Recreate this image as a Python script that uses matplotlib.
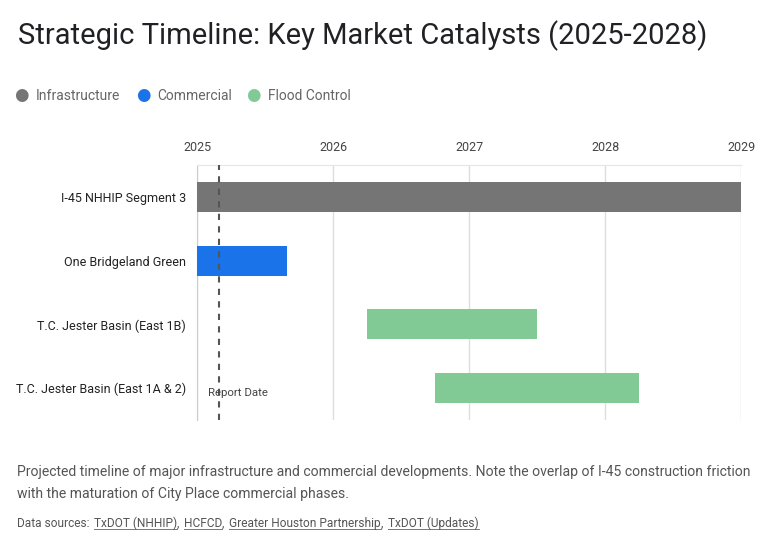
import matplotlib
matplotlib.use("Agg")
import matplotlib.pyplot as plt
from matplotlib.lines import Line2D

plt.rcParams['font.family'] = ['Roboto', 'DejaVu Sans']

# data
projects = ['I-45 NHHIP Segment 3', 'One Bridgeland Green',
            'T.C. Jester Basin (East 1B)', 'T.C. Jester Basin (East 1A & 2)']
starts = [2025.0, 2025.0, 2026.25, 2026.75]
ends = [2029.0, 2025.66, 2027.5, 2028.25]
kinds = ['Infrastructure', 'Commercial', 'Flood Control', 'Flood Control']
report_date = 2025.16
years = [2025, 2026, 2027, 2028, 2029]
colors = {'Infrastructure': '#757575', 'Commercial': '#1a73e8', 'Flood Control': '#81c995'}

fig = plt.figure(figsize=(7.76, 5.49), dpi=100)
ax = fig.add_axes([0.254, 0.235, 0.701, 0.464])

for i, p in enumerate(projects):
    ax.barh(i, ends[i] - starts[i], left=starts[i], height=0.47,
            color=colors[kinds[i]], zorder=3)

ax.set_xlim(2025, 2029)
ax.set_ylim(3.5, -0.5)
ax.set_yticks(range(len(projects)))
ax.set_yticklabels(projects, fontsize=9, color='#222222')
ax.set_xticks(years)
ax.set_xticklabels([str(y) for y in years], fontsize=9, color='#444444')
ax.xaxis.tick_top()
ax.tick_params(axis='both', length=0, pad=8)
ax.tick_params(axis='y', pad=8)
ax.grid(axis='x', color='#dddddd', lw=1, zorder=0)
for s in ['right', 'bottom']:
    ax.spines[s].set_visible(False)
ax.spines['top'].set_color('#e6e6e6')
ax.spines['left'].set_color('#cccccc')

ax.axvline(report_date, color='#555555', lw=1.5, ls=(0, (3, 3)), zorder=4)
ax.text(report_date - 0.08, 3.07, 'Report Date', fontsize=8.2, color='#444444',
        va='center', ha='left', zorder=5)

fig.text(0.023, 0.935, 'Strategic Timeline: Key Market Catalysts (2025-2028)',
         fontsize=21, color='#202124', va='center')

# legend
lx = [0.028, 0.185, 0.327]
for x, k in zip(lx, colors):
    fig.text(x, 0.826, '\u25CF', color=colors[k], fontsize=12, va='center', ha='center')
    fig.text(x + 0.018, 0.826, k, color='#666666', fontsize=10, va='center')

fig.text(0.022, 0.14, 'Projected timeline of major infrastructure and commercial developments. '
         'Note the overlap of I-45 construction friction', fontsize=10.1, color='#555555', va='center')
fig.text(0.022, 0.101, 'with the maturation of City Place commercial phases.',
         fontsize=10.1, color='#555555', va='center')

# sources with underlines
parts = [('Data sources:\u00a0', False), ('TxDOT (NHHIP)', True), (',\u00a0', False),
         ('HCFCD', True), (',\u00a0', False), ('Greater Houston Partnership', True),
         (',\u00a0', False), ('TxDOT (Updates)', True)]
renderer = fig.canvas.get_renderer()
x = 0.022
for txt, ul in parts:
    t = fig.text(x, 0.047, txt, fontsize=8.6, color='#555555', va='center')
    bb = t.get_window_extent(renderer).transformed(fig.transFigure.inverted())
    if ul:
        fig.add_artist(Line2D([bb.x0, bb.x1], [bb.y0 + 0.002, bb.y0 + 0.002],
                              transform=fig.transFigure, color='#777777', lw=0.7))
    x = bb.x1 + (0.002 if txt.endswith('\u00a0') else 0)

fig.savefig('out.png', dpi=100)
